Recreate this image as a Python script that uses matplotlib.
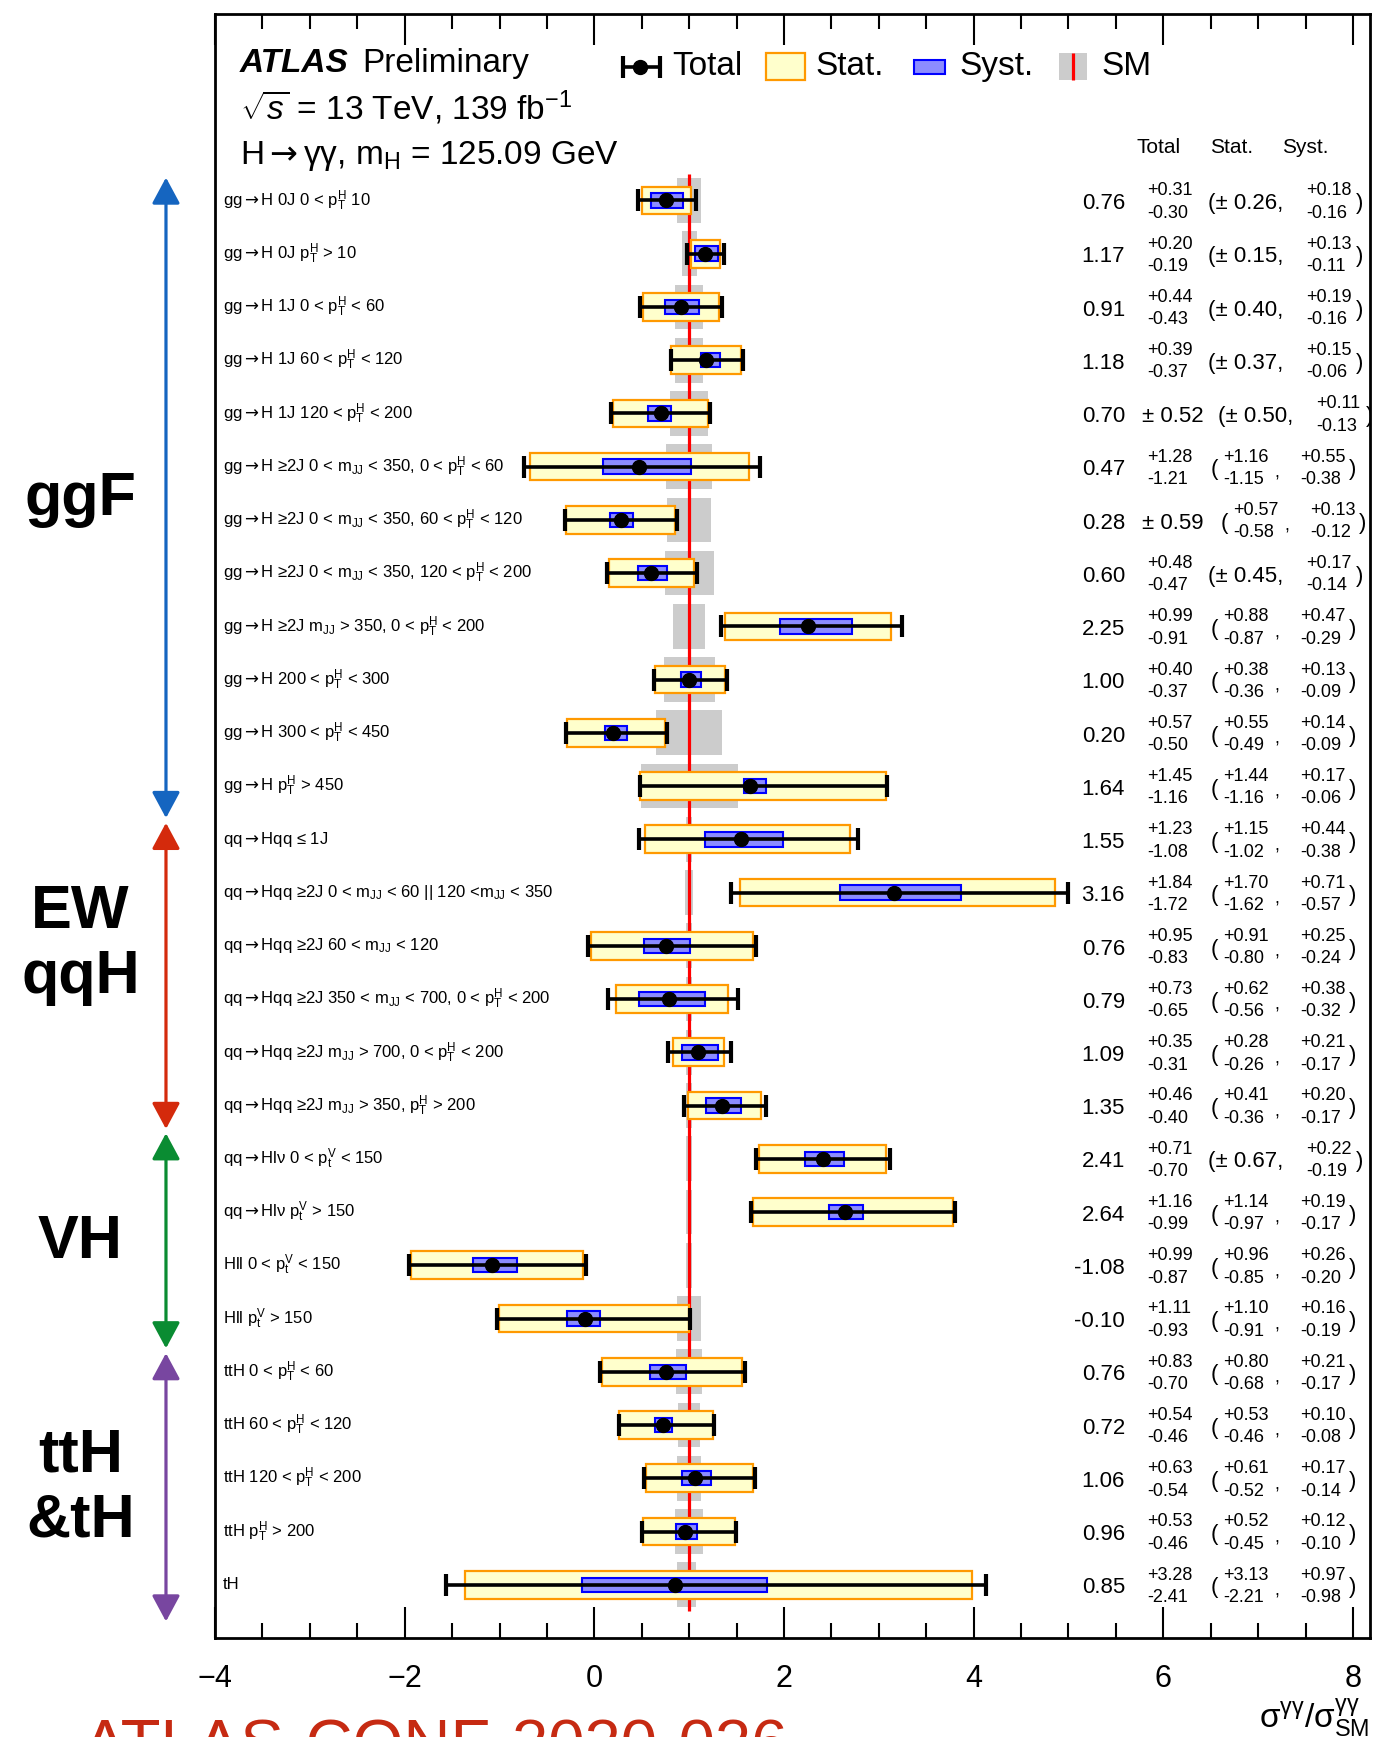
import matplotlib
matplotlib.use('Agg')
import matplotlib.pyplot as plt
from matplotlib.patches import Rectangle
from matplotlib.transforms import blended_transform_factory

plt.rcParams['font.family'] = ['Liberation Sans', 'DejaVu Sans']
plt.rcParams['mathtext.fontset'] = 'custom'
plt.rcParams['mathtext.rm'] = 'Liberation Sans'
plt.rcParams['mathtext.it'] = 'Liberation Sans:italic'
plt.rcParams['mathtext.bf'] = 'Liberation Sans:bold'
plt.rcParams['mathtext.sf'] = 'DejaVu Sans'
plt.rcParams['mathtext.default'] = 'regular'

# ---- data ----
labels = [
    r'gg→H 0J 0 < $p_{T}^{H}$ 10',
    r'gg→H 0J $p_{T}^{H}$ > 10',
    r'gg→H 1J 0 < $p_{T}^{H}$ < 60',
    r'gg→H 1J 60 < $p_{T}^{H}$ < 120',
    r'gg→H 1J 120 < $p_{T}^{H}$ < 200',
    r'gg→H ≥2J 0 < $m_{JJ}$ < 350, 0 < $p_{T}^{H}$ < 60',
    r'gg→H ≥2J 0 < $m_{JJ}$ < 350, 60 < $p_{T}^{H}$ < 120',
    r'gg→H ≥2J 0 < $m_{JJ}$ < 350, 120 < $p_{T}^{H}$ < 200',
    r'gg→H ≥2J $m_{JJ}$ > 350, 0 < $p_{T}^{H}$ < 200',
    r'gg→H 200 < $p_{T}^{H}$ < 300',
    r'gg→H 300 < $p_{T}^{H}$ < 450',
    r'gg→H $p_{T}^{H}$ > 450',
    r'qq→Hqq ≤ 1J',
    r'qq→Hqq ≥2J 0 < $m_{JJ}$ < 60 || 120 <$m_{JJ}$ < 350',
    r'qq→Hqq ≥2J 60 < $m_{JJ}$ < 120',
    r'qq→Hqq ≥2J 350 < $m_{JJ}$ < 700, 0 < $p_{T}^{H}$ < 200',
    r'qq→Hqq ≥2J $m_{JJ}$ > 700, 0 < $p_{T}^{H}$ < 200',
    r'qq→Hqq ≥2J $m_{JJ}$ > 350, $p_{T}^{H}$ > 200',
    r'qq→Hlν 0 < $p_{t}^{V}$ < 150',
    r'qq→Hlν $p_{t}^{V}$ > 150',
    r'Hll 0 < $p_{t}^{V}$ < 150',
    r'Hll $p_{t}^{V}$ > 150',
    r'ttH 0 < $p_{T}^{H}$ < 60',
    r'ttH 60 < $p_{T}^{H}$ < 120',
    r'ttH 120 < $p_{T}^{H}$ < 200',
    r'ttH $p_{T}^{H}$ > 200',
    'tH',
]
mu      = [0.76, 1.17, 0.91, 1.18, 0.70, 0.47, 0.28, 0.60, 2.25, 1.00, 0.20, 1.64, 1.55, 3.16,
           0.76, 0.79, 1.09, 1.35, 2.41, 2.64, -1.08, -0.10, 0.76, 0.72, 1.06, 0.96, 0.85]
tot_hi  = [0.31, 0.20, 0.44, 0.39, 0.52, 1.28, 0.59, 0.48, 0.99, 0.40, 0.57, 1.45, 1.23, 1.84,
           0.95, 0.73, 0.35, 0.46, 0.71, 1.16, 0.99, 1.11, 0.83, 0.54, 0.63, 0.53, 3.28]
tot_lo  = [0.30, 0.19, 0.43, 0.37, 0.52, 1.21, 0.59, 0.47, 0.91, 0.37, 0.50, 1.16, 1.08, 1.72,
           0.83, 0.65, 0.31, 0.40, 0.70, 0.99, 0.87, 0.93, 0.70, 0.46, 0.54, 0.46, 2.41]
stat_hi = [0.26, 0.15, 0.40, 0.37, 0.50, 1.16, 0.57, 0.45, 0.88, 0.38, 0.55, 1.44, 1.15, 1.70,
           0.91, 0.62, 0.28, 0.41, 0.67, 1.14, 0.96, 1.10, 0.80, 0.53, 0.61, 0.52, 3.13]
stat_lo = [0.26, 0.15, 0.40, 0.37, 0.50, 1.15, 0.58, 0.45, 0.87, 0.36, 0.49, 1.16, 1.02, 1.62,
           0.80, 0.56, 0.26, 0.36, 0.67, 0.97, 0.85, 0.91, 0.68, 0.46, 0.52, 0.45, 2.21]
syst_hi = [0.18, 0.13, 0.19, 0.15, 0.11, 0.55, 0.13, 0.17, 0.47, 0.13, 0.14, 0.17, 0.44, 0.71,
           0.25, 0.38, 0.21, 0.20, 0.22, 0.19, 0.26, 0.16, 0.21, 0.10, 0.17, 0.12, 0.97]
syst_lo = [0.16, 0.11, 0.16, 0.06, 0.13, 0.38, 0.12, 0.14, 0.29, 0.09, 0.09, 0.06, 0.38, 0.57,
           0.24, 0.32, 0.17, 0.17, 0.19, 0.17, 0.20, 0.19, 0.17, 0.08, 0.14, 0.10, 0.98]
# SM prediction uncertainty (grey band) around 1
sm_lo   = [0.13, 0.08, 0.145, 0.145, 0.20, 0.24, 0.235, 0.26, 0.17, 0.27, 0.35, 0.51, 0.035, 0.04,
           0.035, 0.03, 0.03, 0.03, 0.035, 0.035, 0.035, 0.125, 0.14, 0.115, 0.125, 0.15, 0.13]
sm_hi   = [0.13, 0.08, 0.145, 0.145, 0.20, 0.24, 0.235, 0.26, 0.17, 0.27, 0.35, 0.51, 0.035, 0.04,
           0.035, 0.03, 0.03, 0.03, 0.035, 0.035, 0.035, 0.125, 0.14, 0.115, 0.125, 0.15, 0.075]

groups = [('ggF', -0.43, 11.6, '#1565c0', 5.61),
          ('EW\nqqH', 11.69, 17.44, '#d42a0c', 13.98),
          ('VH', 17.52, 21.56, '#0a8c32', 19.57),
          ('ttH\n&tH', 21.65, 26.69, '#7846a0', 24.19)]

ARROW = r'$\mathsf{\rightarrow}$'

n = len(mu)
ys = [27 - i for i in range(n)]

fig = plt.figure(figsize=(13.74, 17.37), dpi=100)
ax = fig.add_axes([0.1565, 0.057, 0.8406, 0.9349])
ax.set_xlim(-4, 8.18)
ax.set_ylim(0, 30.5)

# SM bands and line
for i in range(n):
    ax.add_patch(Rectangle((1 - sm_lo[i], ys[i] - 0.42), sm_lo[i] + sm_hi[i], 0.84,
                           fc='#cccccc', ec='none', zorder=1))
ax.vlines(1, 0.5, 27.5, color='#ff0000', lw=2.3, zorder=2)

for i in range(n):
    ax.add_patch(Rectangle((mu[i] - stat_lo[i], ys[i] - 0.26), stat_lo[i] + stat_hi[i], 0.52,
                           fc='#ffffcc', ec='#ff9900', lw=1.6, zorder=3))
    ax.add_patch(Rectangle((mu[i] - syst_lo[i], ys[i] - 0.135), syst_lo[i] + syst_hi[i], 0.27,
                           fc='#8c8cff', ec='#0000ff', lw=1.5, zorder=4))

ax.errorbar(mu, ys, xerr=[tot_lo, tot_hi], fmt='o', color='k', ms=10,
            elinewidth=2.6, capsize=8, capthick=3, zorder=6)

# row labels
for i in range(n):
    ax.text(-3.914, ys[i], labels[i].replace('→', ARROW), ha='left', va='center', fontsize=12)

# numeric table
kw = dict(ha='left', va='center', clip_on=True)
for i in range(n):
    y = ys[i]
    ax.text(5.596, y - 0.06, f'{mu[i]:.2f}', ha='right', va='center', fontsize=16)
    tsym = tot_hi[i] == tot_lo[i]
    sh = 0.105 if tsym else 0.0
    if tsym:
        ax.text(5.775, y - 0.06, f'± {tot_hi[i]:.2f}', fontsize=16, **kw)
    else:
        ax.text(5.828, y + 0.18, f'+{tot_hi[i]:.2f}', fontsize=13, **kw)
        ax.text(5.828, y - 0.24, f'-{tot_lo[i]:.2f}', fontsize=13, **kw)
    if stat_hi[i] == stat_lo[i]:
        ax.text(6.471 + sh, y - 0.06, f'(± {stat_hi[i]:.2f},', fontsize=16, **kw)
        sx, px = 7.508 + sh, 8.035 + sh
    else:
        ax.text(6.503 + sh, y - 0.06, '(', fontsize=16, **kw)
        ax.text(6.630 + sh, y + 0.18, f'+{stat_hi[i]:.2f}', fontsize=13, **kw)
        ax.text(6.630 + sh, y - 0.24, f'-{stat_lo[i]:.2f}', fontsize=13, **kw)
        ax.text(7.168 + sh, y - 0.12, ',', fontsize=13, **kw)
        sx, px = 7.442 + sh, 7.959 + sh
    ax.text(sx, y + 0.18, f'+{syst_hi[i]:.2f}', fontsize=13, **kw)
    ax.text(sx, y - 0.24, f'-{syst_lo[i]:.2f}', fontsize=13, **kw)
    ax.text(px, y - 0.06, ')', fontsize=16, **kw)

for x, s in [(5.95, 'Total'), (6.72, 'Stat.'), (7.50, 'Syst.')]:
    ax.text(x, 28.0, s, ha='center', va='center', fontsize=15)

# header texts
ax.text(-3.74, 29.42, 'ATLAS', fontsize=24, fontweight='bold', style='italic', va='baseline')
ax.text(-2.45, 29.42, 'Preliminary', fontsize=24, va='baseline')
ax.text(-3.74, 28.51, r'$\sqrt{\mathit{s}}$ = 13 TeV, 139 fb$^{-1}$', fontsize=24, va='baseline')
ax.text(-3.74, 27.68, 'H' + ARROW + r'γγ, $m_{H}$ = 125.09 GeV', fontsize=24, va='baseline')

# legend
ly = 29.51
ax.errorbar([0.484], [ly], xerr=[[0.18], [0.21]], fmt='o', color='k', ms=10,
            elinewidth=2.6, capsize=8, capthick=3)
ax.add_patch(Rectangle((1.81, ly - 0.25), 0.41, 0.50, fc='#ffffcc', ec='#ff9900', lw=1.6))
ax.add_patch(Rectangle((3.37, ly - 0.135), 0.33, 0.27, fc='#8c8cff', ec='#0000ff', lw=1.5))
ax.add_patch(Rectangle((4.90, ly - 0.25), 0.30, 0.50, fc='#cccccc', ec='none'))
ax.vlines(5.05, ly - 0.25, ly + 0.25, color='#ff0000', lw=2.3)
for x, s in [(0.82, 'Total'), (2.33, 'Stat.'), (3.85, 'Syst.'), (5.35, 'SM')]:
    ax.text(x, ly, s, ha='left', va='center', fontsize=24)

# axes style
ax.set_yticks([])
ax.set_xticks(range(-4, 9, 2))
ax.set_xticks([x * 0.5 for x in range(-8, 17)], minor=True)
ax.tick_params(axis='x', which='both', direction='in', top=True, width=1.5, labelsize=22, pad=19)
ax.tick_params(axis='x', which='major', length=22)
ax.tick_params(axis='x', which='minor', length=11)
for sp in ax.spines.values():
    sp.set_linewidth(2)

# category arrows on the left
trans = blended_transform_factory(fig.transFigure, ax.transData)
for name, k0, k1, col, kc in groups:
    ax.annotate('', xy=(0.1208, 27 - k1), xytext=(0.1208, 27 - k0),
                xycoords=trans, textcoords=trans, annotation_clip=False,
                arrowprops=dict(arrowstyle='<|-|>,head_length=0.8,head_width=0.43',
                                color=col, lw=2.3, shrinkA=0, shrinkB=0, mutation_scale=20))
    ax.text(0.0585, 27 - kc, name, transform=trans, ha='center', va='center',
            fontsize=44, fontweight='bold', linespacing=1.18)

fig.text(0.9964, 0.0052, r'$\sigma^{\gamma\gamma}/\sigma^{\gamma\gamma}_{SM}$',
         ha='right', va='baseline', fontsize=24)
fig.text(0.0604, -0.0165, 'ATLAS-CONF-2020-026', color='#c62a12', fontsize=47,
         ha='left', va='baseline')

fig.savefig('out.png', dpi=100)
